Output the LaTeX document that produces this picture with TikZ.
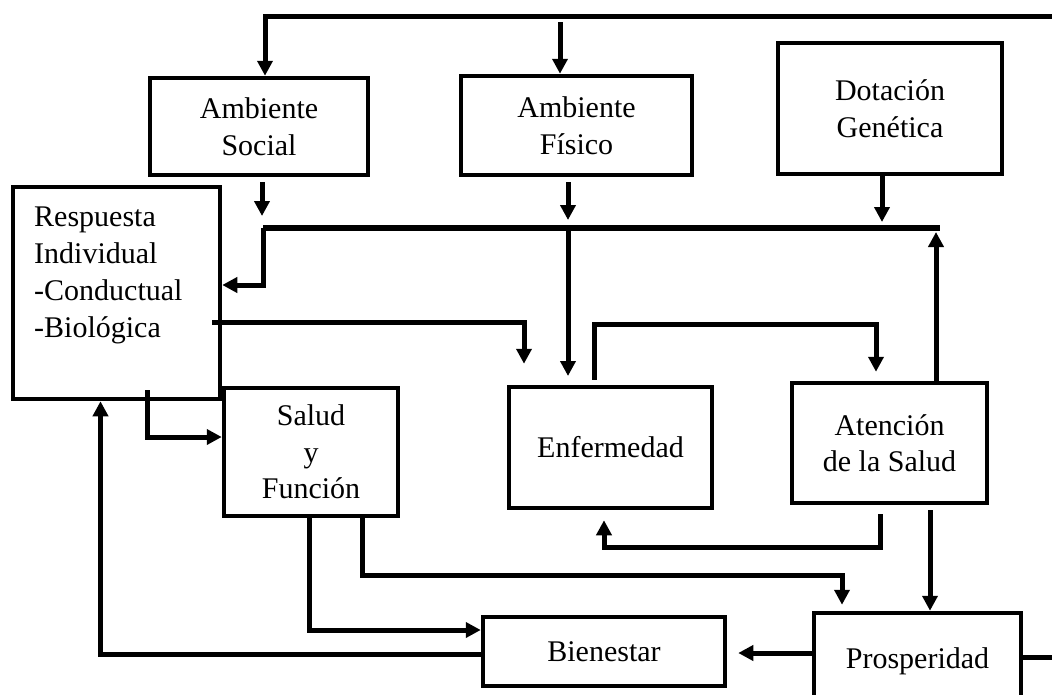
\documentclass[tikz,border=0pt]{standalone}
\usepackage{fontspec}
\setmainfont{Liberation Serif}
\usetikzlibrary{arrows.meta}

\tikzset{
  box/.style={draw, line width=4.5pt, inner sep=0pt, align=center,
              font=\fontsize{30}{36.5}\selectfont},
  conn/.style={line width=5pt, -{Triangle[length=15pt,width=15pt]}},
  plain/.style={line width=5.5pt},
}

\begin{document}
\begin{tikzpicture}[x=1pt, y=-1pt]
\useasboundingbox (0,0) rectangle (1052,694);

% boxes
\node[box, minimum width=218pt, minimum height=97pt]  (soc) at (259,126.5) {Ambiente\\Social};
\node[box, minimum width=231pt, minimum height=99pt]  (fis) at (576.5,125.5) {Ambiente\\Físico};
\node[box, minimum width=224pt, minimum height=131pt] (dot) at (890,108.5) {Dotación\\Genética};
\node[box, minimum width=207pt, minimum height=212pt] (resp) at (116.5,293) {};
\node[font=\fontsize{30}{37}\selectfont, align=left, inner sep=0pt, anchor=north west]
     (resptext) at (34,207) {Respuesta\\Individual\\-Conductual\\-Biológica};
\node[box, minimum width=174pt, minimum height=128pt] (sal) at (311,452) {Salud\\y\\Función};
\node[box, minimum width=203pt, minimum height=121pt] (enf) at (610.5,447.5) {Enfermedad};
\node[box, minimum width=195pt, minimum height=120pt] (ate) at (889.5,443) {Atención\\de la Salud};
\node[box, minimum width=242pt, minimum height=69pt]  (bie) at (604,651.5) {Bienestar};
\node[box, minimum width=207pt, minimum height=97pt]  (pro) at (917.5,661.5) {Prosperidad};

% junction bar and free ends
\coordinate (barL) at (263,228);
\coordinate (barR) at (940,228);
\coordinate (barIn) at (936,232);
\coordinate (barF) at (568,228);
\coordinate (topL) at (265,16);
\coordinate (loopR) at (1075,16);
\coordinate (fisIn) at (560,22);
\coordinate (socEnd) at (262,216);
\coordinate (fisEnd) at (568,220);
\coordinate (dotEnd) at (882,222);
\coordinate (fisTip) at (568,376);

\draw[plain] (barL) -- (barR);

% feedback loop from Prosperidad to the environment
\draw[conn] (pro.east |- 0,657) -- (loopR |- 0,657) -- (loopR) -- (topL) -- (topL |- soc.north);
\draw[conn] (fisIn) -- (fisIn |- fis.north);

% environment into the bar
\draw[conn] ([xshift=3pt,yshift=-5pt]soc.south) -- (socEnd);
\draw[conn] ([xshift=-8.5pt,yshift=-5pt]fis.south) -- (fisEnd);
\draw[conn] ([xshift=-8pt]dot.south) -- (dotEnd);

% bar outputs
\draw[conn] (barL) |- ([yshift=8pt]resp.east);
\draw[conn] (barF) -- (fisTip);
\draw[conn] ([xshift=46.5pt]ate.north) -- (barIn);

% Respuesta Individual outputs
\draw[conn] ([xshift=-10pt,yshift=-29pt]resp.east) -| ([xshift=-86.5pt,yshift=21pt]enf.north);
\draw[conn] ([xshift=30.5pt,yshift=11pt]resp.south) |- ([yshift=15pt]sal.west);

% Enfermedad and Atención de la Salud
\draw[conn] ([xshift=-16.5pt,yshift=5pt]enf.north) -- ++(0,-55) -| ([xshift=-13.5pt,yshift=9pt]ate.north);
\draw[conn] ([xshift=-9.5pt,yshift=-9pt]ate.south) -- ++(0,33) -| ([xshift=-6.5pt,yshift=-10pt]enf.south);
\draw[conn] ([xshift=40.5pt,yshift=-5pt]ate.south) -- ([xshift=12.5pt]pro.north);

% Salud y Función outputs
\draw[conn] ([xshift=-2pt]sal.south) |- ([yshift=21.5pt]bie.west);
\draw[conn] ([xshift=51pt]sal.south) -- ++(0,57) -| ([xshift=-75.5pt,yshift=6pt]pro.north);

% Prosperidad and Bienestar
\draw[conn] ([yshift=8.5pt]pro.west) -- ([xshift=11pt,yshift=-1.5pt]bie.east);
\draw[conn] ([yshift=-2.5pt]bie.west) -| ([xshift=-16pt]resp.south);
\end{tikzpicture}
\end{document}
